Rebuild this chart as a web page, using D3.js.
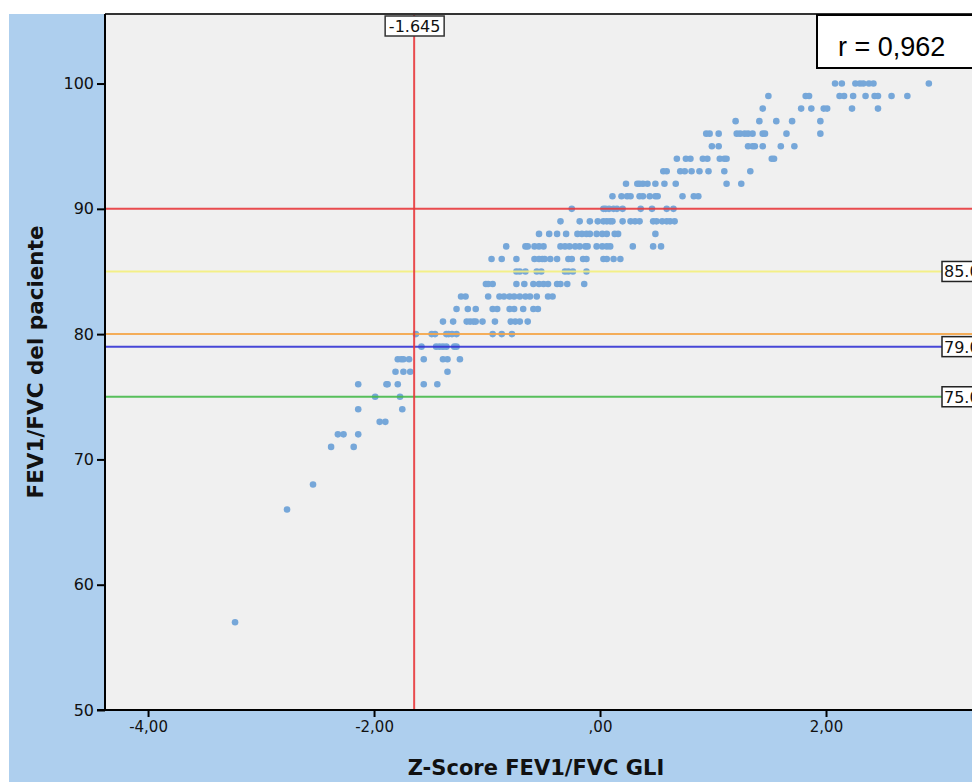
<!DOCTYPE html>
<html>
<head>
<meta charset="utf-8">
<script src="https://cdn.jsdelivr.net/npm/d3@7/dist/d3.min.js"></script>
<style>
  html, body { margin: 0; padding: 0; background: #ffffff; }
  svg { display: block; }
</style>
</head>
<body>
<svg id="chart" width="972" height="782"></svg>
<script>
// ---- DATA ----
const xTicks = [-4, -2, 0, 2];
const xTickLabels = ["-4,00", "-2,00", ",00", "2,00"];
const yTicks = [50, 60, 70, 80, 90, 100];
const xTitle = "Z-Score FEV1/FVC GLI";
const yTitle = "FEV1/FVC del paciente";
const correlationLabel = "r = 0,962";

const refLinesY = [
  { value: 90, color: "#e8393c", label: null },
  { value: 85, color: "#f3ee7c", label: "85.0" },
  { value: 80, color: "#f4a548", label: null },
  { value: 79, color: "#3434d4", label: "79.0" },
  { value: 75, color: "#46b94a", label: "75.0" }
];
const refLineX = { value: -1.645, label: "-1.645" };

// FEV1/FVC levels (integer rows) and the Z-scores observed at each level
const ratioLevels = [100, 99, 98, 97, 96, 95, 94, 93, 92, 91, 90, 89, 88, 87, 86, 85, 84, 83, 82, 81, 80, 79, 78, 77, 76, 75, 74, 73, 72, 71, 68, 66, 57];
const zAtLevel = [
  [2.08, 2.14, 2.26, 2.30, 2.33, 2.38, 2.42, 2.91],
  [1.49, 1.82, 1.85, 2.12, 2.16, 2.24, 2.35, 2.43, 2.46, 2.58, 2.72],
  [1.44, 1.78, 1.87, 1.98, 2.01, 2.23, 2.46],
  [1.20, 1.41, 1.56, 1.70, 1.95],
  [0.94, 0.97, 1.05, 1.21, 1.24, 1.28, 1.31, 1.35, 1.44, 1.46, 1.65, 1.95],
  [0.99, 1.05, 1.31, 1.35, 1.37, 1.44, 1.60, 1.72],
  [0.68, 0.76, 0.80, 0.91, 0.95, 1.06, 1.10, 1.12, 1.52, 1.54],
  [0.56, 0.59, 0.71, 0.75, 0.81, 0.88, 0.96, 1.10, 1.33],
  [0.23, 0.33, 0.35, 0.38, 0.42, 0.49, 0.57, 0.67, 1.12, 1.25],
  [0.11, 0.19, 0.24, 0.27, 0.35, 0.38, 0.44, 0.49, 0.51, 0.73, 0.83, 0.87],
  [-0.25, 0.03, 0.05, 0.08, 0.12, 0.15, 0.20, 0.36, 0.46, 0.59, 0.65],
  [-0.35, -0.18, -0.09, -0.02, 0.03, 0.06, 0.09, 0.11, 0.20, 0.27, 0.31, 0.35, 0.47, 0.50, 0.55, 0.59, 0.62, 0.66],
  [-0.54, -0.45, -0.38, -0.30, -0.20, -0.16, -0.12, -0.09, -0.03, 0.02, 0.06, 0.13, 0.16, 0.49],
  [-0.83, -0.66, -0.64, -0.58, -0.54, -0.50, -0.35, -0.31, -0.27, -0.22, -0.18, -0.13, -0.11, -0.03, 0.02, 0.06, 0.09, 0.29, 0.47, 0.54],
  [-0.96, -0.87, -0.74, -0.58, -0.54, -0.51, -0.49, -0.44, -0.38, -0.28, -0.25, -0.15, -0.12, 0.03, 0.06, 0.12, 0.18],
  [-0.74, -0.71, -0.66, -0.56, -0.52, -0.31, -0.28, -0.24, -0.12],
  [-1.01, -0.99, -0.95, -0.74, -0.67, -0.59, -0.54, -0.50, -0.46, -0.38, -0.35, -0.29, -0.14],
  [-1.23, -1.19, -0.99, -0.89, -0.85, -0.80, -0.76, -0.71, -0.66, -0.62, -0.56, -0.46, -0.42],
  [-1.27, -1.17, -1.10, -0.95, -0.91, -0.80, -0.76, -0.68, -0.59, -0.55],
  [-1.39, -1.30, -1.18, -1.15, -1.12, -1.10, -1.04, -0.93, -0.79, -0.75, -0.71, -0.64],
  [-1.63, -1.49, -1.46, -1.36, -1.34, -1.31, -1.27, -0.95, -0.87, -0.78],
  [-1.58, -1.45, -1.42, -1.39, -1.36, -1.29, -1.27],
  [-1.79, -1.76, -1.74, -1.69, -1.56, -1.39, -1.35, -1.24],
  [-1.81, -1.74, -1.68, -1.35],
  [-2.14, -1.89, -1.88, -1.79, -1.56, -1.44],
  [-1.99, -1.77],
  [-2.14, -1.75],
  [-1.95, -1.90],
  [-2.32, -2.27, -2.14],
  [-2.38, -2.18],
  [-2.54],
  [-2.77],
  [-3.23]
];

// ---- LAYOUT ----
const W = 972, H = 782;
const plot = { left: 105, top: 14, right: 972, bottom: 710 };

const x = d3.scaleLinear().domain([-4.381, 3.292]).range([plot.left, plot.right]);
const y = d3.scaleLinear().domain([50, 105.55]).range([plot.bottom, plot.top]);

const points = [];
ratioLevels.forEach((lv, i) => zAtLevel[i].forEach(z => points.push({ z, v: lv })));

const svg = d3.select("#chart");

// outer blue panel
svg.append("rect").attr("x", 9).attr("y", 14).attr("width", W - 9).attr("height", H - 14)
  .attr("fill", "#aecfee");

// plot area
svg.append("rect").attr("x", plot.left).attr("y", plot.top)
  .attr("width", plot.right - plot.left).attr("height", plot.bottom - plot.top)
  .attr("fill", "#f0f0f0");

svg.append("clipPath").attr("id", "clip").append("rect")
  .attr("x", plot.left).attr("y", plot.top)
  .attr("width", plot.right - plot.left).attr("height", plot.bottom - plot.top);

const g = svg.append("g").attr("clip-path", "url(#clip)");

// points
g.selectAll("circle.pt").data(points).enter().append("circle")
  .attr("class", "pt")
  .attr("cx", d => x(d.z)).attr("cy", d => y(d.v)).attr("r", 3.3)
  .attr("fill", "#76a7d9");

// horizontal reference lines
refLinesY.forEach(r => {
  g.append("line").attr("x1", plot.left).attr("x2", plot.right)
    .attr("y1", y(r.value)).attr("y2", y(r.value))
    .attr("stroke", r.color).attr("stroke-width", 2).attr("stroke-opacity", 0.9);
});

// vertical reference line
g.append("line").attr("x1", x(refLineX.value)).attr("x2", x(refLineX.value))
  .attr("y1", plot.top).attr("y2", plot.bottom)
  .attr("stroke", "#e8393c").attr("stroke-width", 2).attr("stroke-opacity", 0.9);

// labels of horizontal reference lines (right side)
refLinesY.filter(r => r.label).forEach(r => {
  const lg = svg.append("g");
  lg.append("rect").attr("x", 942).attr("y", y(r.value) - 10).attr("width", 60).attr("height", 20)
    .attr("fill", "#ffffff").attr("stroke", "#222").attr("stroke-width", 1.5);
  lg.append("text").attr("x", 944).attr("y", y(r.value) + 6)
    .attr("font-family", "DejaVu Sans").attr("font-size", 16).attr("fill", "#111")
    .text(r.label);
});

// label of vertical reference line
{
  const cx = x(refLineX.value);
  const lg = svg.append("g");
  lg.append("rect").attr("x", cx - 29).attr("y", 16).attr("width", 59).attr("height", 20)
    .attr("fill", "#ffffff").attr("stroke", "#333").attr("stroke-width", 1.5);
  lg.append("text").attr("x", cx + 0.5).attr("y", 32).attr("text-anchor", "middle")
    .attr("font-family", "DejaVu Sans").attr("font-size", 16).attr("fill", "#111")
    .text(refLineX.label);
}

// top frame line
svg.append("line").attr("x1", plot.left).attr("x2", plot.right)
  .attr("y1", plot.top).attr("y2", plot.top).attr("stroke", "#333").attr("stroke-width", 2);

// axes
const yAxis = d3.axisLeft(y).tickValues(yTicks).tickSize(8).tickPadding(3).tickFormat(d3.format("d"));
const yg = svg.append("g").attr("transform", `translate(${plot.left},0)`).call(yAxis);
yg.select(".domain").attr("stroke", "#000").attr("stroke-width", 2)
  .attr("d", `M0,${plot.top}V${plot.bottom}`);
yg.selectAll(".tick line").attr("stroke", "#000").attr("stroke-width", 2);
yg.selectAll(".tick text").attr("font-family", "DejaVu Sans").attr("font-size", 16).attr("fill", "#111");

const xAxis = d3.axisBottom(x).tickValues(xTicks).tickSize(7).tickPadding(4)
  .tickFormat((d, i) => xTickLabels[i]);
const xg = svg.append("g").attr("transform", `translate(0,${plot.bottom})`).call(xAxis);
xg.select(".domain").attr("stroke", "#000").attr("stroke-width", 2)
  .attr("d", `M${plot.left - 8},0H${plot.right}`);
xg.selectAll(".tick line").attr("stroke", "#000").attr("stroke-width", 2);
xg.selectAll(".tick text").attr("font-family", "DejaVu Sans").attr("font-size", 15).attr("fill", "#111");

// axis titles
svg.append("text").attr("x", 536).attr("y", 775).attr("text-anchor", "middle")
  .attr("font-family", "DejaVu Sans").attr("font-weight", "bold").attr("font-size", 21)
  .attr("fill", "#111").text(xTitle);
svg.append("text").attr("transform", "translate(43,362) rotate(-90)").attr("text-anchor", "middle")
  .attr("font-family", "DejaVu Sans").attr("font-weight", "bold").attr("font-size", 21.5)
  .attr("fill", "#111").text(yTitle);

// correlation box
svg.append("rect").attr("x", 817).attr("y", 15).attr("width", 170).attr("height", 53)
  .attr("fill", "#ffffff").attr("stroke", "#000").attr("stroke-width", 2);
svg.append("text").attr("x", 838).attr("y", 56)
  .attr("font-family", "Liberation Sans").attr("font-size", 27).attr("fill", "#000")
  .text(correlationLabel);
</script>
</body>
</html>
